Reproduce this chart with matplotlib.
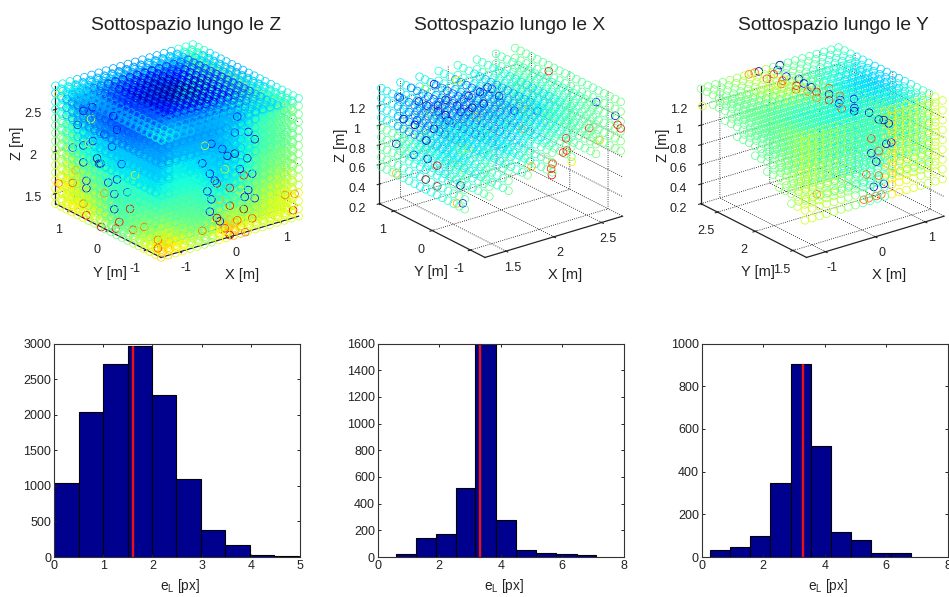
import matplotlib
matplotlib.use('Agg')
import matplotlib.pyplot as plt
import numpy as np

plt.rcParams['font.family'] = ['Liberation Sans', 'DejaVu Sans']
plt.rcParams['grid.linestyle'] = ':'
plt.rcParams['grid.color'] = 'k'
plt.rcParams['grid.linewidth'] = 0.6
plt.rcParams['axes.linewidth'] = 0.8
plt.rcParams['axes.unicode_minus'] = False

W, H = 949, 597
TEXT = '#222222'

# NOTE: the single circles cannot be read one by one from the picture.
# Colours are hand estimates per region (0 = dark blue ... 1 = dark red of jet)
# and the clearly visible odd circles are listed one by one.

# ---- cube, lungo le Z
cube_x = [-1.38, -1.235, -1.09, -0.945, -0.8, -0.655, -0.51, -0.365, -0.22, -0.075,
          0.075, 0.22, 0.365, 0.51, 0.655, 0.8, 0.945, 1.09, 1.235, 1.38]
cube_y = [-1.38, -1.235, -1.09, -0.945, -0.8, -0.655, -0.51, -0.365, -0.22, -0.075,
          0.075, 0.22, 0.365, 0.51, 0.655, 0.8, 0.945, 1.09, 1.235, 1.38]
cube_z = [1.38, 1.47, 1.56, 1.66, 1.75, 1.84, 1.94, 2.03, 2.12, 2.22, 2.31, 2.4, 2.5, 2.59, 2.69, 2.78]
# second camera lattice, between the first one
cube_x2 = [-1.31, -1.16, -1.02, -0.87, -0.73, -0.58, -0.44, -0.29, -0.15, 0.0,
           0.15, 0.29, 0.44, 0.58, 0.73, 0.87, 1.02, 1.16, 1.31]
cube_y2 = [-1.31, -1.16, -1.02, -0.87, -0.73, -0.58, -0.44, -0.29, -0.15, 0.0,
           0.15, 0.29, 0.44, 0.58, 0.73, 0.87, 1.02, 1.16, 1.31]
cube_z2 = [1.42, 1.51, 1.61, 1.7, 1.8, 1.89, 1.98, 2.08, 2.17, 2.26, 2.36, 2.45, 2.54, 2.64, 2.74]

# rows from z top to z bottom, columns from y max to y min
cube_left = [[.34, .27, .23, .22, .20, .20, .20, .22, .24, .26],
             [.38, .30, .27, .25, .24, .24, .24, .26, .28, .28],
             [.45, .38, .33, .33, .32, .32, .32, .32, .32, .32],
             [.50, .42, .38, .36, .35, .35, .35, .35, .35, .35],
             [.55, .48, .44, .42, .40, .40, .40, .40, .40, .40],
             [.60, .55, .50, .46, .44, .42, .42, .44, .46, .46],
             [.65, .60, .56, .52, .46, .44, .45, .50, .52, .54],
             [.62, .65, .62, .58, .52, .48, .50, .56, .62, .65]]
# rows from z top to z bottom, columns from x min to x max
cube_right = [[.26, .27, .27, .27, .28, .30, .33, .38, .42, .48],
              [.28, .30, .30, .30, .30, .32, .36, .42, .45, .48],
              [.33, .36, .35, .33, .31, .32, .36, .42, .45, .48],
              [.37, .38, .38, .36, .33, .34, .38, .45, .48, .50],
              [.42, .42, .42, .40, .36, .36, .42, .46, .50, .52],
              [.48, .45, .45, .42, .40, .42, .45, .50, .55, .58],
              [.58, .52, .48, .46, .50, .54, .50, .55, .60, .62],
              [.68, .65, .58, .54, .64, .70, .62, .60, .62, .62]]
# rows from x min to x max, columns from y min to y max
cube_top = [[.36, .32, .30, .28, .28, .30, .32, .36],
            [.32, .27, .22, .18, .16, .18, .24, .32],
            [.30, .24, .14, .08, .06, .09, .18, .30],
            [.30, .22, .09, .03, .03, .06, .15, .28],
            [.30, .22, .09, .03, .03, .06, .15, .28],
            [.32, .24, .14, .09, .07, .11, .18, .30],
            [.34, .30, .22, .20, .18, .20, .24, .32],
            [.40, .37, .34, .32, .30, .32, .34, .40]]

# odd circles: y, z, value on the left face; x, z, value on the right face
cube_odd_left = [(.18, 1.38, .93), (1.3, 1.64, .82), (.93, 1.73, .82), (.57, 1.43, .9), (.65, 1.55, .8),
                 (-.57, 1.77, .9), (-.2, 1.45, .9), (-.29, 1.55, .9), (-.65, 1.54, .85), (-.94, 1.64, .8),
                 (-1.3, 1.47, .85), (-1.3, 1.57, .8), (.41, 2.75, .12), (.65, 2.65, .08), (-.13, 2.77, .1),
                 (-.23, 2.63, .1), (.65, 2.24, .1), (.2, 2.13, .03), (.65, 2.04, .1), (-.23, 2.04, .1),
                 (.57, 1.84, .15), (.57, 1.75, .12), (-.16, 1.85, .15), (-.16, 1.67, .12), (.93, 2.15, .2),
                 (.29, 2.17, .03), (.24, 2.12, .03), (.45, 2.6, .62), (1.3, 2.7, .6), (-.1, 2.4, .15),
                 (.1, 2.5, .12), (.8, 2.45, .15), (.4, 2.35, .12), (-.35, 2.25, .15), (.85, 1.9, .72),
                 (.1, 1.8, .75), (-.7, 2.2, .65), (.5, 2.3, .62), (-.5, 1.95, .18), (.0, 1.95, .15)]
cube_odd_right = [(.5, 2.45, .08), (.37, 2.56, .1), (.15, 2.78, .15), (-.37, 2.55, .12), (-.55, 2.35, .1),
                  (-.05, 2.35, .03), (.1, 2.35, .03), (-.37, 1.89, .1), (-.26, 2.06, .93), (.28, 2.06, .88),
                  (0, 1.96, .9), (0, 1.75, .9), (.28, 1.66, .98), (-.26, 1.65, .98), (0, 1.4, .95),
                  (.31, 1.38, .82), (1.27, 1.47, .9), (1.11, 1.68, .78), (1.3, 1.66, .78), (.37, 1.87, .12),
                  (-.4, 2.2, .1), (-.3, 2.1, .15), (.2, 2.15, .1), (.35, 2.25, .08), (-.2, 1.6, .12),
                  (-.4, 1.75, .1), (.1, 2.6, .15), (-.15, 2.45, .15), (.45, 1.52, .85), (-.1, 1.5, .85),
                  (-.45, 2.0, .12), (.45, 2.05, .15), (.2, 1.9, .65), (-.1, 2.2, .62), (-.5, 2.55, .62),
                  (.3, 1.8, .12), (-.2, 1.85, .72), (.5, 1.75, .15), (-.55, 1.55, .8), (.15, 1.55, .82)]

# ---- slices, lungo le X
xs_x = [1.3, 1.5, 1.7, 1.9, 2.1, 2.3, 2.5, 2.7]
xs_y = [1.38, 1.235, 1.09, 0.945, 0.8, 0.655, 0.51, 0.365, 0.22, 0.075, -0.075, -0.22,
        -0.365, -0.51, -0.655, -0.8, -0.945, -1.09, -1.235, -1.38]
xs_z = [1.37, 1.27, 1.17, 1.07, 0.97, 0.87, 0.77, 0.67, 0.57]
xs_ymin = [-0.9, -0.95, -1.0, -1.05, -1.1, -1.15, -1.25, -1.38]
xs_zmin = [0.57, 0.6, 0.65, 0.7, 0.74, 0.78, 0.82, 0.86]
# rows are the x slices, columns from y max to y min
xs_upper = [[.36, .28, .24, .26, .32, .36, .38, .42, .45],
            [.36, .26, .20, .22, .28, .34, .38, .42, .45],
            [.36, .26, .20, .20, .24, .30, .36, .40, .45],
            [.38, .28, .22, .22, .24, .28, .35, .41, .45],
            [.40, .34, .30, .28, .28, .30, .35, .42, .46],
            [.42, .38, .36, .36, .34, .34, .37, .43, .47],
            [.44, .43, .42, .40, .40, .40, .42, .45, .48],
            [.47, .46, .46, .46, .46, .46, .46, .47, .49]]
xs_lower = [[.46, .42, .38, .36, .38, .42, .46, .50, .50],
            [.46, .40, .36, .35, .36, .40, .44, .48, .50],
            [.46, .38, .34, .33, .35, .38, .42, .48, .50],
            [.46, .40, .34, .33, .33, .36, .42, .48, .50],
            [.46, .42, .37, .35, .35, .37, .42, .48, .50],
            [.46, .44, .40, .38, .38, .40, .44, .48, .50],
            [.47, .46, .45, .44, .44, .44, .45, .48, .50],
            [.48, .47, .47, .47, .47, .47, .47, .48, .50]]
xs_odd = [(2.7, -1.38, 1.1, .9), (2.7, -1.3, 1.12, .9), (2.7, -.56, .94, .88), (2.7, .5, 1.31, .9),
          (2.7, -.83, .87, .7), (2.3, -1.1, .82, .65), (2.3, -.97, .91, .88), (2.25, -1.0, .91, .88),
          (2.3, -.95, 1.03, .88), (2.1, -1.06, .8, .88), (2.1, -1.08, .74, .9), (2.1, -1.1, .86, .82),
          (1.9, -1.05, .88, .72), (1.3, .22, .67, .95), (1.3, -.08, .87, .9), (1.3, -.08, .66, .92),
          (1.3, .99, .58, .72), (1.3, -.6, .59, .72), (1.3, .17, .89, .05), (1.3, .53, .86, .1),
          (1.3, .99, .88, .05), (1.3, -.69, .79, .05), (1.3, -.75, .62, .15), (2.7, -.74, 1.24, .15),
          (2.7, -1.24, 1.2, .12), (2.3, .99, 1.15, .1), (2.5, .3, 1.0, .15), (1.5, .6, 1.2, .62),
          (1.7, 1.2, 1.3, .62), (1.9, .4, 1.1, .65), (1.7, .1, .9, .65), (1.5, -.2, 1.0, .6),
          (1.9, .9, 1.37, .65), (2.1, .6, 1.3, .05), (2.3, .2, 1.1, .7), (2.1, -.3, 1.05, .7),
          (1.5, .9, 1.27, .03), (1.7, .9, 1.17, .03), (1.5, .5, 1.07, .03), (1.9, .5, 1.17, .03),
          (1.5, .7, 1.27, .05), (1.5, .4, 1.27, .03), (1.5, .2, 1.27, .05), (1.7, .7, 1.27, .03),
          (1.7, .4, 1.27, .05), (1.7, .1, 1.27, .03), (1.9, .6, 1.27, .05), (1.9, .2, 1.27, .05),
          (2.1, .3, 1.27, .08), (1.3, .8, 1.17, .1), (1.3, .5, 1.17, .05), (1.3, .2, 1.07, .05),
          (1.5, .95, 1.07, .08), (1.7, .6, 1.07, .1), (1.9, .8, 1.07, .08), (1.3, .9, 1.37, .15),
          (1.5, 1.1, 1.37, .12), (1.7, 1.0, 1.37, .1), (1.9, .3, 1.37, .1), (2.1, -.1, 1.2, .12)]

# ---- wedge, lungo le Y
ys_x = [-1.38, -1.235, -1.09, -0.945, -0.8, -0.655, -0.51, -0.365, -0.22, -0.075,
        0.075, 0.22, 0.365, 0.51, 0.655, 0.8, 0.945, 1.09, 1.235, 1.38]
ys_y = [2.72, 2.64, 2.56, 2.48, 2.4, 2.32, 2.24, 2.16, 2.08, 2.0, 1.92, 1.84, 1.76, 1.68, 1.6, 1.52, 1.44, 1.34]
ys_z = [1.37, 1.27, 1.17, 1.07, 0.97, 0.87, 0.77, 0.67, 0.57]
ys_zmin = [1.33, 1.28, 1.24, 1.2, 1.15, 1.1, 1.06, 1.02, 0.98, 0.93, 0.88, 0.84, 0.8, 0.75, 0.7, 0.66, 0.62, 0.57]
# rows from y max to y min, columns from x min to x max
ys_err = [[.50, .50, .54, .58, .56, .48, .46, .45, .42, .42],
          [.48, .48, .52, .56, .58, .50, .42, .40, .38, .36],
          [.47, .46, .47, .50, .54, .50, .38, .35, .34, .34],
          [.47, .44, .42, .40, .44, .46, .38, .35, .33, .33],
          [.48, .44, .40, .38, .37, .42, .42, .38, .36, .36],
          [.52, .48, .44, .40, .37, .40, .47, .42, .40, .42],
          [.60, .58, .56, .52, .45, .42, .66, .62, .58, .60]]
ys_odd = [(.2, 2.72, 1.37, .05), (-.22, 2.72, 1.37, .05), (.05, 2.65, 1.37, .08), (-.1, 2.6, 1.37, .85),
          (0, 2.5, 1.37, .1), (-.15, 2.45, 1.37, .85), (.1, 2.4, 1.37, .1), (.05, 2.3, 1.37, .12),
          (-.1, 2.3, 1.37, .9), (.05, 2.2, 1.37, .1), (-.1, 2.15, 1.37, .8), (0, 2.1, 1.37, .9),
          (-.15, 2.0, 1.37, .78), (.1, 2.0, 1.37, .08), (-.05, 1.9, 1.37, .9), (.1, 1.85, 1.37, .1),
          (0, 1.8, 1.37, .12), (-.1, 1.7, 1.37, .85), (.08, 1.65, 1.37, .1), (0, 1.6, 1.37, .05),
          (.15, 1.5, 1.37, .05), (.1, 1.34, 1.37, .02), (.2, 1.34, 1.35, .03), (.3, 1.34, 1.3, .06),
          (.25, 1.34, 1.1, .05), (.35, 1.34, 1.1, .1), (-.05, 1.34, 1.05, .05), (.05, 1.34, .95, .05),
          (-.2, 1.34, .6, .8), (-.1, 1.34, .6, .8), (.05, 1.34, .6, .8), (.15, 1.34, .6, .8),
          (0, 1.34, .7, .05), (.2, 1.34, .7, .05), (-1.38, 2.7, 1.2, .6), (-.9, 1.5, .7, .8),
          (-.3, 2.72, 1.37, .82), (-.42, 2.72, 1.37, .78), (-.3, 2.56, 1.37, .85), (-.25, 2.4, 1.37, .8),
          (-.2, 2.24, 1.37, .85), (.25, 2.1, 1.37, .82), (.2, 1.92, 1.37, .8), (.3, 1.8, 1.37, .12),
          (-.05, 1.34, 1.2, .85), (.1, 1.34, 1.05, .85), (-.15, 1.34, .85, .8), (.1, 1.34, .8, .82)]

# ---- histograms
z_edges = [0, 0.51, 1.0, 1.5, 2.0, 2.48, 2.98, 3.47, 3.98, 4.47, 4.98]
z_counts = [1040, 2040, 2710, 2960, 2280, 1090, 380, 165, 25, 10]
z_mean = 1.6
x_edges = [0.6, 1.24, 1.89, 2.54, 3.18, 3.85, 4.51, 5.15, 5.8, 6.47, 7.1]
x_counts = [25, 140, 175, 515, 1595, 280, 52, 28, 20, 12]
x_mean = 3.33
y_edges = [0.27, 0.93, 1.58, 2.23, 2.9, 3.55, 4.2, 4.86, 5.5, 6.16, 6.8]
y_counts = [32, 47, 100, 348, 902, 520, 117, 80, 20, 20]
y_mean = 3.29


def cell(table, i, n_i, j, n_j):
    # nearest region of a hand estimated table
    return table[int(i * len(table) / n_i)][int(j * len(table[0]) / n_j)]


def cube_value(x, y, z):
    fx = (x - cube_x[0]) / (cube_x[-1] - cube_x[0])
    fy = (y - cube_y[0]) / (cube_y[-1] - cube_y[0])
    fz = (z - cube_z[0]) / (cube_z[-1] - cube_z[0])
    if fz > 0.94:
        return cell(cube_top, min(fx, .999), 1, min(fy, .999), 1)
    if fx < fy:
        return cell(cube_left, min(1 - fz, .999), 1, min(1 - fy, .999), 1)
    return cell(cube_right, min(1 - fz, .999), 1, min(fx, .999), 1)


def cube_points():
    px, py, pz, pv = [], [], [], []
    for gx, gy, gz in ((cube_x2, cube_y2, cube_z2), (cube_x, cube_y, cube_z)):
        for x in gx:
            for y in gy:
                for z in gz:
                    px.append(x)
                    py.append(y)
                    pz.append(z)
                    pv.append(cube_value(x, y, z))
    for y, z, v in cube_odd_left:
        px.append(cube_x[0])
        py.append(y)
        pz.append(z)
        pv.append(v)
    for x, z, v in cube_odd_right:
        px.append(x)
        py.append(cube_y[0])
        pz.append(z)
        pv.append(v)
    return px, py, pz, pv


def xs_points():
    px, py, pz, pv = [], [], [], []
    for i, x in enumerate(xs_x):
        for j, y in enumerate(xs_y):
            if y < xs_ymin[i]:
                continue
            for z in xs_z:
                if z < xs_zmin[i]:
                    continue
                table = xs_upper if z >= 1.0 else xs_lower
                px.append(x)
                py.append(y)
                pz.append(z)
                pv.append(cell(table, i, len(xs_x), j, len(xs_y)))
    for x, y, z, v in xs_odd:
        px.append(x)
        py.append(y)
        pz.append(z)
        pv.append(v)
    return px, py, pz, pv


def ys_points():
    px, py, pz, pv = [], [], [], []
    for j, y in enumerate(ys_y):
        for i, x in enumerate(ys_x):
            for z in ys_z:
                if z < ys_zmin[j]:
                    continue
                px.append(x)
                py.append(y)
                pz.append(z)
                pv.append(cell(ys_err, j, len(ys_y), i, len(ys_x)))
    for x, y, z, v in ys_odd:
        px.append(x)
        py.append(y)
        pz.append(z)
        pv.append(v)
    return px, py, pz, pv


def scatter_panel(box, title, title_x, pts, lims, ticks, labels, xl_pos, yl_pos, zl_pos):
    l, t, r, b = box
    ax = fig.add_axes([l / W, 1 - b / H, (r - l) / W, (b - t) / H], projection='3d')
    ax.set_proj_type('ortho')
    ax.view_init(elev=23, azim=-127.5)
    ax.set_box_aspect((176, 176, 130), zoom=1.033)
    px, py, pz, pv = pts
    ax.scatter(px, py, pz, s=30, marker='o', facecolors='none',
               edgecolors=plt.cm.jet(np.array(pv)), linewidths=0.55, depthshade=False)
    ax.set_xlim(lims[0])
    ax.set_ylim(lims[1])
    ax.set_zlim(lims[2])
    ax.set_xticks(ticks[0])
    ax.set_xticklabels(labels[0])
    ax.set_yticks(ticks[1])
    ax.set_yticklabels(labels[1])
    ax.set_zticks(ticks[2])
    ax.set_zticklabels(labels[2])
    ax.tick_params(labelsize=9, colors=TEXT, pad=-2)
    ax.yaxis.set_tick_params(pad=0)
    ax.zaxis.set_tick_params(pad=1)
    for a in (ax.xaxis, ax.yaxis, ax.zaxis):
        a.pane.set_facecolor((1, 1, 1, 0))
        a.pane.set_edgecolor((1, 1, 1, 0))
        a.line.set_color('#222222')
        a.line.set_linewidth(0.9)
    fig.text(xl_pos[0] / W, 1 - xl_pos[1] / H, 'X [m]', fontsize=10.5, color=TEXT, ha='center', va='center')
    fig.text(yl_pos[0] / W, 1 - yl_pos[1] / H, 'Y [m]', fontsize=10.5, color=TEXT, ha='center', va='center')
    fig.text(zl_pos[0] / W, 1 - zl_pos[1] / H, 'Z [m]', fontsize=10.5, color=TEXT, ha='center', va='center', rotation=90)
    fig.text(title_x / W, 1 - 25 / H, title, fontsize=13.9, color=TEXT, ha='center', va='center')
    return ax


def hist_panel(left, edges, counts, mean, xlim, ymax, xticks, yticks):
    ax = fig.add_axes([left / W, 1 - 557 / H, 246 / W, 213.5 / H])
    ax.bar(edges[:-1], counts, width=np.diff(edges), align='edge', color='#00008F', edgecolor='k', linewidth=0.8)
    ax.plot([mean, mean], [0, max(counts)], color='#EE1111', linewidth=1.7, solid_capstyle='butt')
    ax.set_xlim(xlim)
    ax.set_ylim(0, ymax)
    ax.set_xticks(xticks)
    ax.set_yticks(yticks)
    ax.tick_params(direction='in', top=True, right=True, length=2.5, width=0.7, labelsize=9, colors=TEXT, pad=2)
    ax.set_xlabel('e$_\\mathregular{L}$ [px]', fontsize=9.8, color=TEXT)
    ax.xaxis.set_label_coords(0.512, -0.092)
    for s in ax.spines.values():
        s.set_color('#333333')
    return ax


fig = plt.figure(figsize=(W / 100, H / 100), dpi=100)

scatter_panel((23.5, 24.5, 323.5, 284.5), 'Sottospazio lungo le Z', 186, cube_points(),
              ((-1.38, 1.38), (-1.38, 1.38), (1.38, 2.78)),
              ([-1, 0, 1], [-1, 0, 1], [1.5, 2, 2.5]),
              (['-1', '0', '1'], ['-1', '0', '1'], ['1.5', '2', '2.5']),
              (242, 275), (110, 273), (17, 143))
scatter_panel((347.5, 24.5, 647.5, 284.5), 'Sottospazio lungo le X', 510, xs_points(),
              ((1.28, 2.72), (-1.38, 1.38), (0.2, 1.4)),
              ([1.5, 2, 2.5], [-1, 0, 1], [0.2, 0.4, 0.6, 0.8, 1, 1.2]),
              (['1.5', '2', '2.5'], ['-1', '0', '1'], ['0.2', '0.4', '0.6', '0.8', '1', '1.2']),
              (565, 275), (431, 272), (341, 145))
scatter_panel((669, 24.5, 969, 284.5), 'Sottospazio lungo le Y', 833, ys_points(),
              ((-1.38, 1.38), (1.32, 2.72), (0.2, 1.4)),
              ([-1, 0, 1], [1.5, 2, 2.5], [0.2, 0.4, 0.6, 0.8, 1, 1.2]),
              (['-1', '0', '1'], ['1.5', '2', '2.5'], ['0.2', '0.4', '0.6', '0.8', '1', '1.2']),
              (889, 275), (758, 272), (663, 145))

hist_panel(54, z_edges, z_counts, z_mean, (0, 5), 3000, [0, 1, 2, 3, 4, 5], [0, 500, 1000, 1500, 2000, 2500, 3000])
hist_panel(377.7, x_edges, x_counts, x_mean, (0, 8), 1600, [0, 2, 4, 6, 8], [0, 200, 400, 600, 800, 1000, 1200, 1400, 1600])
hist_panel(701.7, y_edges, y_counts, y_mean, (0, 8), 1000, [0, 2, 4, 6, 8], [0, 200, 400, 600, 800, 1000])

fig.savefig('out.png', dpi=100)
